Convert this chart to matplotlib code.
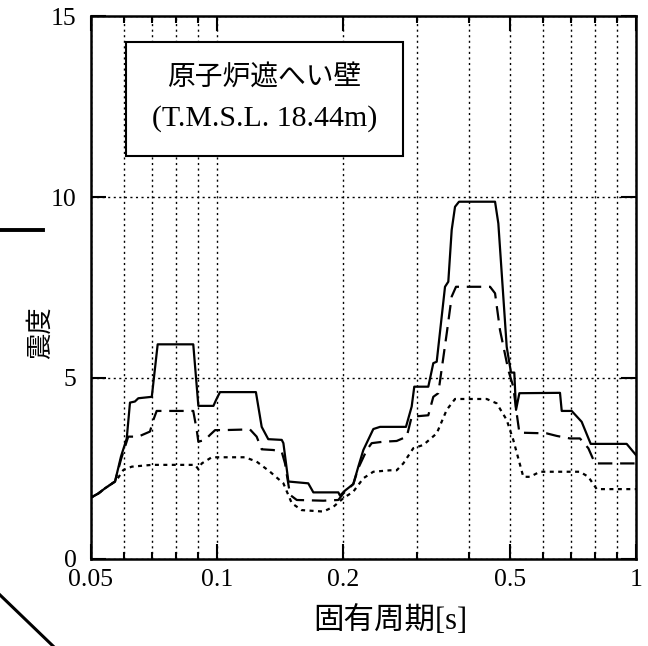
import numpy as np
import matplotlib
matplotlib.use('Agg')
import matplotlib.pyplot as plt
from matplotlib.patches import Rectangle
from matplotlib.lines import Line2D
from matplotlib.ticker import FixedLocator, NullFormatter

plt.rcParams['font.family'] = ['Liberation Serif', 'Noto Sans CJK JP']

# solid line
t_solid = [0.05, 0.0522, 0.0541, 0.0572, 0.0591, 0.0610, 0.0621, 0.0638, 0.0650, 0.0700,
           0.0723, 0.0879, 0.0904, 0.0982, 0.0996, 0.1018, 0.124, 0.128, 0.1327, 0.1429,
           0.1442, 0.1482, 0.1653, 0.170, 0.195, 0.1968, 0.2023, 0.2117, 0.2176, 0.2237,
           0.2363, 0.2452, 0.2827, 0.2917, 0.2959, 0.3196, 0.3285, 0.3347, 0.3503, 0.3567,
           0.3634, 0.3701, 0.3783, 0.4611, 0.4695, 0.4916, 0.5033, 0.5125, 0.5174, 0.527,
           0.6587, 0.665, 0.7024, 0.742, 0.7797, 0.950, 1.0]
v_solid = [1.69, 1.81, 1.95, 2.14, 2.83, 3.33, 4.32, 4.35, 4.44, 4.48,
           5.93, 5.93, 4.23, 4.23, 4.39, 4.61, 4.61, 3.65, 3.31, 3.29,
           3.20, 2.14, 2.09, 1.84, 1.84, 1.75, 1.89, 2.07, 2.55, 3.01,
           3.59, 3.65, 3.65, 4.21, 4.76, 4.76, 5.41, 5.45, 7.52, 7.66,
           9.09, 9.73, 9.87, 9.87, 9.27, 5.86, 5.15, 5.15, 4.12, 4.58,
           4.59, 4.09, 4.09, 3.79, 3.18, 3.18, 2.87]

# dashed line
t_dash = [0.05, 0.0522, 0.0541, 0.0572, 0.0591, 0.0615, 0.0650, 0.0693, 0.0706, 0.0719,
          0.0879, 0.0896, 0.0904, 0.0938, 0.0964, 0.0991, 0.1037, 0.120, 0.1245, 0.128,
          0.1365, 0.1429, 0.1455, 0.1496, 0.1552, 0.1796, 0.195, 0.2004, 0.2117, 0.2176,
          0.2279, 0.2342, 0.2496, 0.2686, 0.2839, 0.2917, 0.3196, 0.3285, 0.3376, 0.3536,
          0.3634, 0.3721, 0.4486, 0.4611, 0.4737, 0.4959, 0.5096, 0.5193, 0.527, 0.6123,
          0.647, 0.696, 0.735, 0.7696, 0.7984, 1.0]
v_dash = [1.69, 1.81, 1.95, 2.14, 2.75, 3.38, 3.38, 3.52, 3.84, 4.09,
          4.09, 3.56, 3.24, 3.29, 3.43, 3.56, 3.56, 3.58, 3.38, 3.03,
          3.01, 2.96, 2.64, 1.77, 1.63, 1.61, 1.63, 1.81, 2.07, 2.51,
          3.01, 3.20, 3.24, 3.26, 3.38, 3.93, 3.97, 4.48, 4.58, 6.23,
          7.25, 7.52, 7.52, 7.34, 6.33, 5.22, 4.76, 4.02, 3.49, 3.47,
          3.40, 3.33, 3.33, 3.06, 2.64, 2.64]

# dotted line
t_dot = [0.05, 0.0522, 0.0541, 0.0572, 0.0577, 0.0599, 0.0627, 0.0700, 0.0888, 0.0904,
         0.0921, 0.0973, 0.1168, 0.1245, 0.134, 0.1442, 0.151, 0.1595, 0.1796, 0.1897,
         0.2004, 0.2117, 0.2237, 0.2363, 0.2589, 0.2686, 0.2786, 0.2943, 0.311, 0.3347,
         0.3536, 0.3701, 0.4404, 0.4653, 0.4916, 0.5096, 0.5385, 0.5586, 0.590, 0.735,
         0.7696, 0.806, 1.0]
v_dot = [1.69, 1.81, 1.95, 2.14, 2.18, 2.46, 2.55, 2.60, 2.60, 2.48,
         2.64, 2.81, 2.81, 2.69, 2.41, 2.09, 1.54, 1.35, 1.31, 1.44,
         1.68, 1.86, 2.23, 2.41, 2.45, 2.45, 2.64, 3.06, 3.15, 3.47,
         4.12, 4.42, 4.42, 4.30, 3.84, 3.29, 2.27, 2.27, 2.41, 2.41,
         2.27, 1.93, 1.93]

x_major = [0.05, 0.1, 0.2, 0.5, 1]
x_labels = ['0.05', '0.1', '0.2', '0.5', '1']
x_minor = [0.06, 0.07, 0.08, 0.09, 0.3, 0.4, 0.6, 0.7, 0.8, 0.9]
y_major = [0, 5, 10, 15]

fig = plt.figure(figsize=(6.48, 6.46), dpi=100)
ax = fig.add_axes([0.1397, 0.1347, 0.8418, 0.8405])

ax.plot(t_solid, v_solid, color='black', lw=1.6, zorder=4)
ax.plot(t_dash, v_dash, color='black', lw=1.6, linestyle=(0, (6.5, 3.5)), zorder=4)
ax.plot(t_dot, v_dot, color='black', lw=1.6, linestyle=(0, (1.8, 2.0)), zorder=4)

ax.set_xscale('log')
ax.set_xlim(0.05, 1)
ax.set_ylim(0, 15)
ax.xaxis.set_major_locator(FixedLocator(x_major))
ax.set_xticklabels(x_labels)
ax.xaxis.set_minor_locator(FixedLocator(x_minor))
ax.xaxis.set_minor_formatter(NullFormatter())
ax.set_yticks(y_major)

ax.tick_params(which='major', direction='in', length=11, width=1.5, top=True, right=True,
               labelsize=18.5, pad=7)
ax.tick_params(which='minor', direction='in', length=5, width=1.5, top=True, right=True)
ax.tick_params(axis='y', pad=10)

grid_style = dict(color='black', lw=1.0, linestyle=(0, (1.5, 2.5)))
ax.grid(True, which='both', axis='x', **grid_style)
ax.grid(True, which='major', axis='y', **grid_style)
ax.set_axisbelow(True)

for s in ax.spines.values():
    s.set_linewidth(1.8)

ax.add_patch(Rectangle((0.0651, 0.742), 0.508, 0.21, transform=ax.transAxes,
                       facecolor='white', edgecolor='black', lw=1.5, zorder=3))
ax.text(0.319, 0.886, '原子炉遮へい壁', transform=ax.transAxes, ha='center', va='center',
        fontsize=20, zorder=5)
ax.text(0.319, 0.812, '(T.M.S.L. 18.44m)', transform=ax.transAxes, ha='center', va='center',
        fontsize=21.5, zorder=5)

fig.text(0.603, 0.038, '固有周期[s]', ha='center', va='center', fontsize=22)
fig.text(0.062, 0.485, '震度', ha='center', va='center', rotation=90, fontsize=19)

# stray strokes at the left edge of the picture
fig.add_artist(Line2D([0.0, 0.0664], [0.644, 0.644], transform=fig.transFigure,
                      color='black', lw=2.8))
fig.add_artist(Line2D([0.0, 0.0818], [0.079, 0.0], transform=fig.transFigure,
                      color='black', lw=2.2))

fig.savefig('out.png', dpi=100)
